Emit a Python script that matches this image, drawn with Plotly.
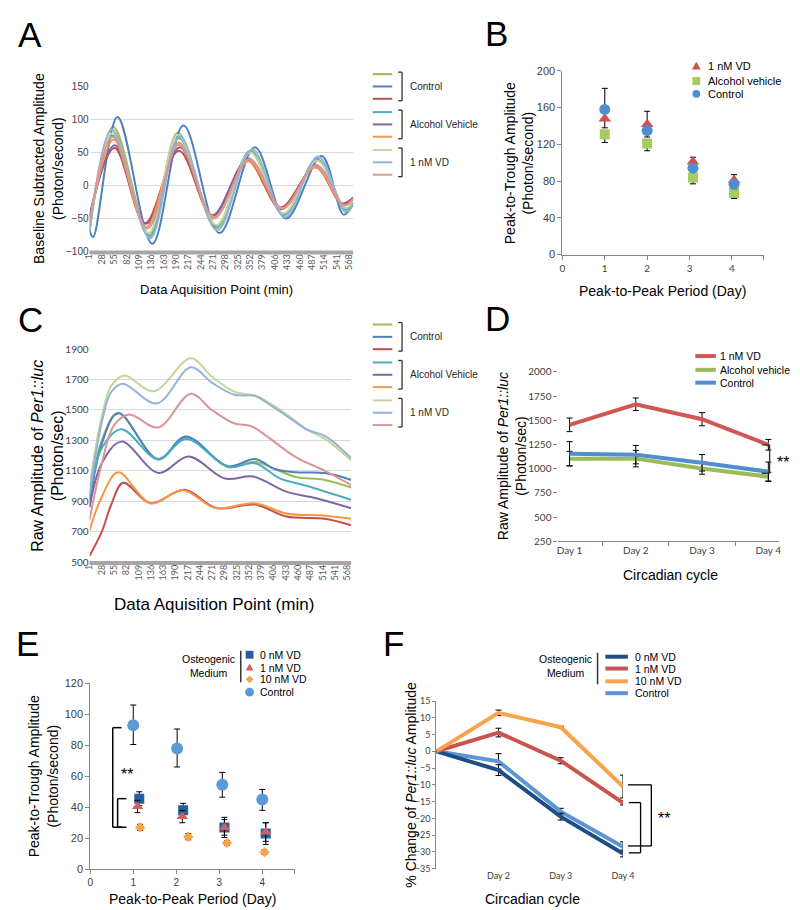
import plotly.graph_objects as go

W, H = 800, 910
def fx(p): return p / W
def fy(p): return 1 - p / H

FONT = "Liberation Sans, Arial, sans-serif"
TICKF = "Lato, Liberation Sans, sans-serif"

# ---------------- data ----------------
time_ticks = [1, 28, 55, 82, 109, 136, 163, 190, 217, 244, 271, 298, 325, 352, 379, 406, 433, 460, 487, 514, 541, 568]

# Panel A: baseline subtracted amplitude (key points)
A_ctrl1_x = [1, 53, 132, 194, 278, 352, 425, 498, 560, 577]
A_ctrl1_y = [-70, 89, -75, 80, -65, 53, -45, 40, -38, -25]
A_ctrl2_x = [1, 9, 62, 138, 206, 285, 362, 430, 508, 556, 577]
A_ctrl2_y = [-68, -78, 104, -88, 91, -72, 58, -50, 45, -44, -28]
A_ctrl3_x = [1, 56, 122, 196, 270, 345, 418, 494, 552, 577]
A_ctrl3_y = [-45, 57, -57, 53, -46, 38, -33, 28, -27, -18]
A_alc1_x = [1, 52, 132, 196, 278, 352, 425, 498, 560, 577]
A_alc1_y = [-65, 76, -78, 72, -62, 52, -44, 40, -36, -24]
A_alc2_x = [1, 56, 125, 198, 269, 348, 420, 496, 555, 577]
A_alc2_y = [-48, 61, -58, 58, -45, 41, -36, 31, -28, -20]
A_alc3_x = [1, 54, 125, 196, 272, 348, 422, 494, 556, 577]
A_alc3_y = [-58, 70, -63, 65, -50, 37, -35, 28, -30, -20]
A_vd1_x = [1, 52, 130, 194, 278, 352, 425, 498, 560, 577]
A_vd1_y = [-65, 80, -72, 77, -60, 50, -42, 38, -34, -22]
A_vd2_x = [1, 50, 133, 198, 280, 356, 428, 500, 560, 577]
A_vd2_y = [-70, 85, -80, 75, -68, 55, -48, 44, -40, -26]
A_vd3_x = [1, 52, 128, 196, 274, 350, 422, 496, 556, 577]
A_vd3_y = [-55, 74, -65, 62, -48, 40, -34, 30, -30, -20]

# Panel C: raw amplitude
C_ctrl1_x = [1, 28, 64, 152, 213, 306, 365, 410, 455, 519, 577]
C_ctrl1_y = [910, 1300, 1482, 1175, 1320, 1125, 1160, 1110, 1060, 1040, 990]
C_ctrl2_x = [1, 28, 64, 152, 213, 306, 365, 410, 455, 519, 577]
C_ctrl2_y = [870, 1280, 1478, 1178, 1325, 1130, 1178, 1110, 1090, 1085, 1040]
C_ctrl3_x = [1, 28, 49, 75, 135, 210, 280, 365, 434, 519, 577]
C_ctrl3_y = [541, 700, 880, 1022, 887, 975, 855, 878, 800, 785, 742]
C_alc1_x = [1, 28, 71, 152, 213, 306, 365, 420, 480, 577]
C_alc1_y = [920, 1250, 1374, 1175, 1310, 1125, 1150, 1050, 1000, 909]
C_alc2_x = [1, 28, 71, 153, 219, 299, 361, 434, 500, 577]
C_alc2_y = [860, 1150, 1292, 1086, 1194, 1049, 1062, 963, 920, 854]
C_alc3_x = [1, 28, 64, 135, 207, 278, 363, 434, 519, 577]
C_alc3_y = [707, 930, 1090, 887, 973, 855, 887, 820, 805, 785]
C_vd1_x = [1, 28, 49, 78, 142, 224, 270, 320, 365, 400, 440, 480, 519, 577]
C_vd1_y = [1000, 1460, 1660, 1727, 1623, 1840, 1720, 1620, 1595, 1540, 1460, 1370, 1310, 1168]
C_vd2_x = [1, 28, 49, 74, 149, 224, 270, 320, 365, 400, 440, 480, 519, 577]
C_vd2_y = [950, 1420, 1620, 1673, 1543, 1781, 1680, 1600, 1592, 1530, 1450, 1370, 1330, 1183]
C_vd3_x = [1, 28, 55, 88, 152, 224, 270, 320, 356, 390, 455, 519, 577]
C_vd3_y = [780, 1150, 1400, 1471, 1385, 1606, 1500, 1411, 1395, 1330, 1190, 1100, 1006]

# Panel B
B_days_x = [1, 2, 3.08, 4.05]
B_vd = [148, 142, 101, 81]
B_vd_plus = [0, 14, 5, 6]
B_vd_minus = [10, 0, 0, 0]
B_alc = [131, 121, 84, 67]
B_alc_plus = [0, 0, 0, 0]
B_alc_minus = [9, 8, 7, 6]
B_ctrl = [158, 135, 94, 76.5]
B_ctrl_plus = [23, 0, 0, 0]
B_ctrl_minus = [0, 7, 0, 0]

# Panel D
D_days = ["Day 1", "Day 2", "Day 3", "Day 4"]
D_vd = [1453, 1665, 1511, 1247]
D_vd_err = [70, 65, 68, 55]
D_alc = [1104, 1104, 1003, 918]
D_alc_err = [75, 85, 60, 45]
D_ctrl = [1155, 1145, 1061, 969]
D_ctrl_err = [125, 95, 85, 100]

# Panel E
E_ctrl_x = [1.0, 2.02, 3.07, 4.0]
E_ctrl = [93, 78, 54.5, 45]
E_ctrl_plus = [13, 12.5, 8, 6.5]
E_ctrl_minus = [12.5, 12, 8, 7]
E_0nm_x = [1.14, 2.16, 3.12, 4.08]
E_0nm = [45.5, 38, 27, 23]
E_0nm_err = [4.5, 4.5, 6.5, 7]
E_1nm_x = [1.1, 2.14, 3.12, 4.08]
E_1nm = [40.5, 34, 27, 24]
E_1nm_err = [4, 4, 5, 6]
E_10nm_x = [1.16, 2.28, 3.18, 4.05]
E_10nm = [27, 21, 17, 11]
E_10nm_err = [2, 2, 1.5, 1.5]

# Panel F
F_days = [0, 1, 2, 3]
F_day_labels = ["", "Day 2", "Day 3", "Day 4"]
F_0nm = [0, -5.6, -19.5, -30.5]
F_0nm_err = [0, 1.6, 1.0, 1.0]
F_1nm = [0, 5.6, -2.8, -15.4]
F_1nm_err = [0, 1.3, 0.9, 0.6]
F_10nm = [0, 11.5, 7.2, -10.5]
F_10nm_err = [0, 0.8, 0.3, 3.4]
F_ctrl = [0, -3.0, -18, -28.5]
F_ctrl_err = [0, 2.3, 1.0, 1.5]

# colours
COL = dict(olive="#9BBB59", blue="#4F81BD", red="#C0504D", teal="#4BACC6", purple="#8064A2",
           orange="#F79646", lgreen="#C3D69B", lblue="#95B3D7", pink="#D99694")

fig = go.Figure()

def curve(x, y, color, xa, ya):
    fig.add_trace(go.Scatter(x=x, y=y, mode="lines", xaxis=xa, yaxis=ya, showlegend=False,
                             line=dict(color=color, width=2, shape="spline", smoothing=1.0),
                             hoverinfo="skip"))

A_series = [(A_ctrl1_x, A_ctrl1_y, "olive"), (A_ctrl2_x, A_ctrl2_y, "blue"), (A_ctrl3_x, A_ctrl3_y, "red"),
            (A_alc1_x, A_alc1_y, "teal"), (A_alc2_x, A_alc2_y, "purple"), (A_alc3_x, A_alc3_y, "orange"),
            (A_vd1_x, A_vd1_y, "lgreen"), (A_vd2_x, A_vd2_y, "lblue"), (A_vd3_x, A_vd3_y, "pink")]
for x, y, c in A_series:
    curve(x, y, COL[c], "x", "y")

C_series = [(C_ctrl1_x, C_ctrl1_y, "olive"), (C_ctrl2_x, C_ctrl2_y, "blue"), (C_ctrl3_x, C_ctrl3_y, "red"),
            (C_alc1_x, C_alc1_y, "teal"), (C_alc2_x, C_alc2_y, "purple"), (C_alc3_x, C_alc3_y, "orange"),
            (C_vd1_x, C_vd1_y, "lgreen"), (C_vd2_x, C_vd2_y, "lblue"), (C_vd3_x, C_vd3_y, "pink")]
for x, y, c in C_series:
    curve(x, y, COL[c], "x3", "y3")

def pts(x, y, plus, minus, symbol, color, size, xa, ya):
    fig.add_trace(go.Scatter(x=x, y=y, mode="markers", xaxis=xa, yaxis=ya, showlegend=False,
                             marker=dict(symbol=symbol, color=color, size=size, line=dict(width=0)),
                             error_y=dict(type="data", symmetric=False, array=plus, arrayminus=minus,
                                          color="#000000", thickness=1, width=3)))

pts(B_days_x, B_vd, B_vd_plus, B_vd_minus, "triangle-up", "#D0504D", 11, "x2", "y2")
pts(B_days_x, B_alc, B_alc_plus, B_alc_minus, "square", "#A6CB5E", 10, "x2", "y2")
pts(B_days_x, B_ctrl, B_ctrl_plus, B_ctrl_minus, "circle", "#4F8FD0", 11, "x2", "y2")

def dline(y, err, color):
    fig.add_trace(go.Scatter(x=D_days, y=y, mode="lines", xaxis="x4", yaxis="y4", showlegend=False,
                             line=dict(color=color, width=4),
                             error_y=dict(type="data", array=err, color="#000000", thickness=1, width=3)))
dline(D_alc, D_alc_err, "#9BBB59")
dline(D_ctrl, D_ctrl_err, "#4F8FCF")
dline(D_vd, D_vd_err, "#D05754")

def epts(x, y, plus, minus, symbol, color, size):
    pts(x, y, plus, minus, symbol, color, size, "x5", "y5")
epts(E_ctrl_x, E_ctrl, E_ctrl_plus, E_ctrl_minus, "circle", "#5B9BD5", 12)
epts(E_0nm_x, E_0nm, E_0nm_err, E_0nm_err, "square", "#2660A4", 10)
epts(E_1nm_x, E_1nm, E_1nm_err, E_1nm_err, "triangle-up", "#D0605D", 10)
epts(E_10nm_x, E_10nm, E_10nm_err, E_10nm_err, "diamond", "#F8A44C", 8)

def fline(y, err, color):
    fig.add_trace(go.Scatter(x=F_days, y=y, mode="lines", xaxis="x6", yaxis="y6", showlegend=False,
                             line=dict(color=color, width=4),
                             error_y=dict(type="data", array=err, color="#000000", thickness=1, width=3)))
fline(F_ctrl, F_ctrl_err, "#5B95D3")
fline(F_0nm, F_0nm_err, "#1F4E85")
fline(F_1nm, F_1nm_err, "#C9544F")
fline(F_10nm, F_10nm_err, "#F8A44C")

# ---------------- axes ----------------
tickfont_small = dict(family=TICKF, size=9, color="#595959")
tickfont_arial = dict(family=FONT, size=10, color="#404040")

layout = dict(
    width=W, height=H, margin=dict(l=0, r=0, t=0, b=0),
    paper_bgcolor="white", plot_bgcolor="rgba(0,0,0,0)", showlegend=False,
    font=dict(family=FONT, color="#000000"),
)
layout["xaxis"] = dict(domain=[fx(77.3), fx(347)], anchor="y", range=[1, 577], tickmode="array",
                       tickvals=time_ticks, tickangle=-90, tickfont=tickfont_small, showgrid=False,
                       zeroline=False, ticks="")
layout["yaxis"] = dict(domain=[fy(240), fy(72.7)], anchor="x", range=[-100, 150], dtick=50, tick0=0,
                       showgrid=True, gridcolor="#D9D9D9", gridwidth=1, zeroline=False,
                       tickfont=tickfont_arial, ticks="")
layout["xaxis2"] = dict(domain=[fx(561), fx(767)], anchor="y2", range=[0, 4.75], tickmode="array",
                        tickvals=[0, 1, 2, 3, 4, 4.75], ticktext=["0", "1", "2", "3", "4", ""],
                        showline=True, linecolor="#868686", ticks="outside", ticklen=4, tickcolor="#868686",
                        tickfont=dict(family=TICKF, size=10, color="#404040"), showgrid=False, zeroline=False)
layout["yaxis2"] = dict(domain=[fy(243), fy(56.7)], anchor="x2", range=[0, 200], dtick=40,
                        showline=True, linecolor="#868686", ticks="outside", ticklen=4, tickcolor="#868686",
                        tickfont=dict(family=FONT, size=11, color="#404040"), showgrid=False, zeroline=False)
layout["xaxis3"] = dict(domain=[fx(77.3), fx(345)], anchor="y3", range=[1, 577], tickmode="array",
                        tickvals=time_ticks, tickangle=-90, tickfont=tickfont_small, showgrid=False,
                        zeroline=False, ticks="")
layout["yaxis3"] = dict(domain=[fy(555), fy(339)], anchor="x3", range=[500, 1900], dtick=200, tick0=500,
                        showgrid=True, gridcolor="#D9D9D9", zeroline=False,
                        tickfont=dict(family=TICKF, size=10, color="#404040"), ticks="")
layout["xaxis4"] = dict(domain=[fx(557), fx(783)], anchor="y4", type="category", tickson="boundaries",
                        ticks="outside", ticklen=4, tickcolor="#868686", showline=True, linecolor="#868686",
                        tickfont=dict(family=TICKF, size=10, color="#404040"), showgrid=False, zeroline=False)
layout["yaxis4"] = dict(domain=[fy(534), fy(362)], anchor="x4", range=[250, 2000], dtick=250,
                        ticks="outside", ticklen=4, tickcolor="#868686", showline=False,
                        tickfont=dict(family=TICKF, size=10, color="#404040"), showgrid=False, zeroline=False)
layout["xaxis5"] = dict(domain=[fx(78), fx(287)], anchor="y5", range=[0, 4.75], tickmode="array",
                        tickvals=[0, 1, 2, 3, 4, 4.75], ticktext=["0", "1", "2", "3", "4", ""],
                        showline=True, linecolor="#868686", ticks="outside", ticklen=4, tickcolor="#868686",
                        tickfont=dict(family=FONT, size=10, color="#404040"), showgrid=False, zeroline=False)
layout["yaxis5"] = dict(domain=[fy(866.6), fy(678)], anchor="x5", range=[0, 120], dtick=20,
                        showline=True, linecolor="#868686", ticks="outside", ticklen=4, tickcolor="#868686",
                        tickfont=dict(family=FONT, size=11, color="#404040"), showgrid=False, zeroline=False)
layout["xaxis6"] = dict(domain=[fx(432), fx(623)], anchor="y6", range=[0, 3], tickmode="array",
                        tickvals=F_days, ticktext=F_day_labels, showline=False,
                        ticks="", tickfont=dict(family=TICKF, size=9, color="#404040"),
                        showgrid=False, zeroline=False)
layout["yaxis6"] = dict(domain=[fy(866), fy(696)], anchor="x6", range=[-35, 15], dtick=5,
                        showline=True, linecolor="#868686", ticks="outside", ticklen=3, tickcolor="#868686",
                        tickfont=dict(family=TICKF, size=9, color="#404040"), showgrid=False, zeroline=False)

fig.update_layout(**layout)

# ---------------- annotations & decorations ----------------
anns = []
shapes = []

def text(t, x, y, size, xanchor="center", yanchor="middle", angle=0, color="#000000", family=FONT, align="center"):
    anns.append(dict(text=t, x=fx(x), y=fy(y), xref="paper", yref="paper", showarrow=False,
                     xanchor=xanchor, yanchor=yanchor, textangle=angle, align=align, borderpad=0,
                     font=dict(size=size, color=color, family=family)))

def seg(x0, y0, x1, y1, color="#000000", width=1):
    shapes.append(dict(type="line", xref="paper", yref="paper", x0=fx(x0), y0=fy(y0), x1=fx(x1), y1=fy(y1),
                       line=dict(color=color, width=width)))

def bracket_left(x, y0, y1, arm, color="#333333", width=1.5):
    seg(x - arm, y0, x, y0, color, width)
    seg(x, y0, x, y1, color, width)
    seg(x - arm, y1, x, y1, color, width)

def bracket_right(x, y0, y1, arm, color="#333333", width=1.5):
    seg(x + arm, y0, x, y0, color, width)
    seg(x, y0, x, y1, color, width)
    seg(x + arm, y1, x, y1, color, width)

for L, x, y in [("A", 3, 20), ("B", 481, 19), ("C", 3, 309), ("D", 481, 308), ("E", 1, 638), ("F", 376, 638)]:
    text(L, x, y, 35, xanchor="left")

for x0, x1, yb in [(77.3, 347, 240), (77.3, 345, 555)]:
    shapes.append(dict(type="rect", xref="paper", yref="paper", x0=fx(x0), x1=fx(x1), y0=fy(yb - 1), y1=fy(yb + 3),
                       fillcolor="#A6A6A6", line=dict(width=0)))

text("Baseline Subtracted Amplitude<br>(Photon/second)", 35, 156, 14, angle=-90)
text("Data Aquisition Point (min)", 207, 278, 13)
text("Peak-to-Trough Amplitude<br>(Photon/second)", 516, 150, 14, angle=-90)
text("Peak-to-Peak Period (Day)", 663, 280, 14)
text("Raw Amplitude of <i>Per1::luc</i><br>(Photon/sec)", 34, 447, 16, angle=-90)
text("Data Aquisition Point (min)", 205, 598, 17)
text("Raw Amplitude of <i>Per1::luc</i><br>(Photon/sec)", 509, 448, 14, angle=-90)
text("Circadian cycle", 672, 568, 14)
text("Peak-to-Trough Amplitude<br>(Photon/second)", 30, 772, 14, angle=-90)
text("Peak-to-Peak Period (Day)", 183, 897, 14)
text("% Change of <i>Per1::luc</i> Amplitude", 406, 781, 14, angle=-90)
text("Circadian cycle", 530, 897, 14)

groups = [("Control", ["olive", "blue", "red"]), ("Alcohol Vehicle", ["teal", "purple", "orange"]),
          ("1 nM VD", ["lgreen", "lblue", "pink"])]
for ys0 in (60, 314):
    for gi, (name, cols) in enumerate(groups):
        base = ys0 + gi * 38.5
        for k, c in enumerate(cols):
            seg(367, base + k * 12.5, 387, base + k * 12.5, COL[c], 2)
        bracket_left(397, base - 2, base + 27, 4, "#333333", 1.3)
        text(name, 404, base + 12.5, 10, xanchor="left", color="#262626")

def tri(cx, cy, s, color):
    path = "M {} {} L {} {} L {} {} Z".format(fx(cx), fy(cy - s), fx(cx + s), fy(cy + s * 0.75),
                                               fx(cx - s), fy(cy + s * 0.75))
    shapes.append(dict(type="path", xref="paper", yref="paper", path=path, fillcolor=color, line=dict(width=0)))

def sq(cx, cy, s, color):
    shapes.append(dict(type="rect", xref="paper", yref="paper", x0=fx(cx - s), x1=fx(cx + s),
                       y0=fy(cy + s), y1=fy(cy - s), fillcolor=color, line=dict(width=0)))

def circ(cx, cy, s, color):
    shapes.append(dict(type="circle", xref="paper", yref="paper", x0=fx(cx - s), x1=fx(cx + s),
                       y0=fy(cy + s), y1=fy(cy - s), fillcolor=color, line=dict(width=0)))

def dia(cx, cy, s, color):
    path = "M {} {} L {} {} L {} {} L {} {} Z".format(fx(cx), fy(cy - s), fx(cx + s), fy(cy),
                                                       fx(cx), fy(cy + s), fx(cx - s), fy(cy))
    shapes.append(dict(type="path", xref="paper", yref="paper", path=path, fillcolor=color, line=dict(width=0)))

tri(698, 52, 4.5, "#D0504D"); text("1 nM VD", 709, 52, 11, xanchor="left")
sq(698, 67, 4, "#A6CB5E"); text("Alcohol vehicle", 709, 67, 11, xanchor="left")
circ(698, 80, 4, "#4F8FD0"); text("Control", 709, 80, 11, xanchor="left")

for y, c, t in [(346, "#D05754", "1 nM VD"), (360, "#9BBB59", "Alcohol vehicle"), (373, "#4F8FCF", "Control")]:
    seg(697, y, 718, y, c, 4)
    text(t, 721, y, 10.5, xanchor="left")
bracket_left(773, 436, 465, 8, "#333333", 1.3)
text("**", 780, 454, 16, xanchor="left")

text("Osteogenic<br>Medium", 199, 660, 10.5)
seg(232, 645, 232, 677, "#333333", 1.5)
sq(241, 649, 4, "#2660A4"); text("0 nM VD", 251, 649, 10.5, xanchor="left")
tri(241, 662, 4, "#D0605D"); text("1 nM VD", 251, 662, 10.5, xanchor="left")
dia(241, 674, 4, "#F8A44C"); text("10 nM VD", 251, 674, 10.5, xanchor="left")
circ(241, 687, 4.5, "#5B9BD5"); text("Control", 251, 687, 10.5, xanchor="left")
bracket_right(101, 723, 824, 9, "#000000", 1.5)
bracket_right(106, 795, 824, 9, "#000000", 1.5)
text("**", 108, 770, 16, xanchor="left")

text("Osteogenic<br>Medium", 564, 660, 10.5)
seg(597, 647, 597, 679, "#333333", 1.5)
for y, c, t in [(651, "#1F4E85", "0 nM VD"), (663, "#C9544F", "1 nM VD"), (676, "#F8A44C", "10 nM VD"),
                (688, "#5B95D3", "Control")]:
    seg(605, y, 628, y, c, 4)
    text(t, 634, y, 10.5, xanchor="left")
bracket_left(652, 781, 843, 24, "#000000", 1.3)
bracket_left(641, 799, 850, 12, "#000000", 1.3)
text("**", 658, 815, 16, xanchor="left")

fig.update_layout(annotations=anns, shapes=shapes)
fig.write_html("out.html")
